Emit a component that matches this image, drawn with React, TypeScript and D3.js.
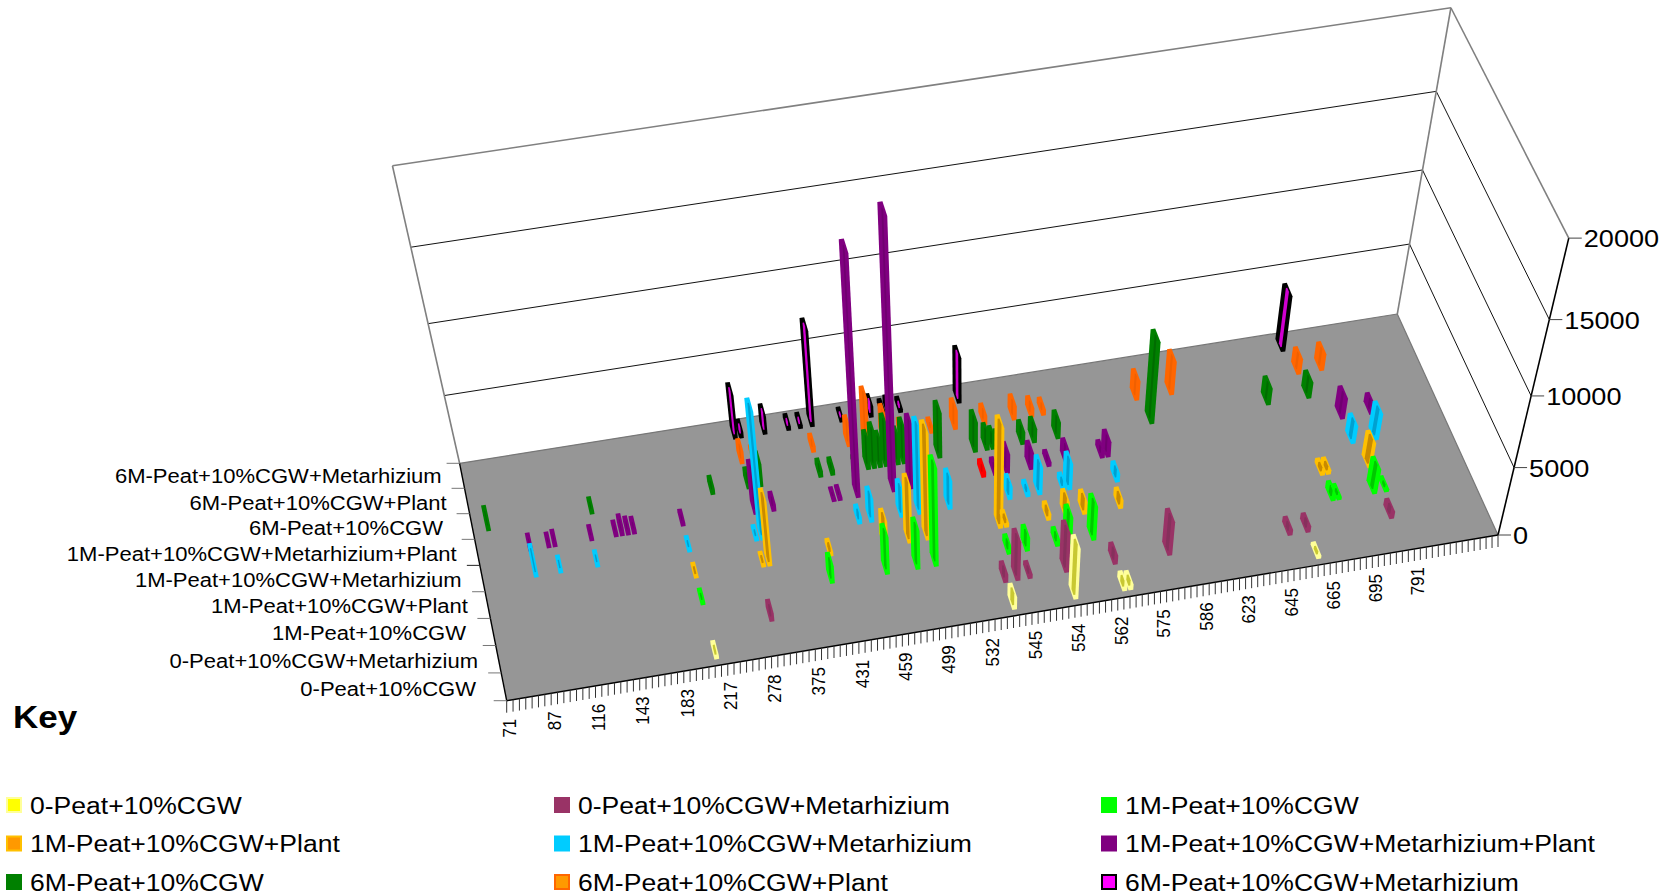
import * as React from 'react';
import { useRef, useEffect } from 'react';
import * as d3 from 'd3';

type Point = [number, number];
type Peak = [number, number]; // [category index, abundance]

const seriesNames = [
  '0-Peat+10%CGW',
  '0-Peat+10%CGW+Metarhizium',
  '1M-Peat+10%CGW',
  '1M-Peat+10%CGW+Plant',
  '1M-Peat+10%CGW+Metarhizium',
  '1M-Peat+10%CGW+Metarhizium+Plant',
  '6M-Peat+10%CGW',
  '6M-Peat+10%CGW+Plant',
  '6M-Peat+10%CGW+Metarhizium',
];

const peat0: Peak[] = [[33, 300], [81, 900], [91, 3800], [99, 450], [100, 400], [131, 200]];
const peat0Meta: Peak[] = [[43, 600], [81, 600], [83, 2900], [85, 300], [91, 2900], [99, 650], [108, 2500], [128, 400], [131, 450], [145, 500]];
const peat1: Peak[] = [[33, 200], [54, 1300], [63, 2800], [68, 2900], [71, 7200], [83, 500], [86, 1000], [91, 450], [93, 2000], [97, 2500], [137, 500], [138, 200], [144, 1800], [146, 200]];
const peat1Plant: Peak[] = [[33, 150], [44, 150], [45, 4800], [55, 300], [64, 1900], [68, 4200], [71, 7800], [83, 7300], [84, 300], [91, 450], [94, 1150], [97, 900], [103, 600], [137, 300], [138, 300], [145, 1800]];
const peat1Meta: Peak[] = [[8, 1500], [12, 300], [18, 250], [33, 200], [44, 200], [45, 9300], [61, 500], [63, 1700], [68, 1900], [71, 6200], [76, 2100], [86, 950], [89, 300], [91, 2000], [95, 400], [96, 1900], [104, 600], [144, 1300], [148, 1900]];
const peat1MetaPlant: Peak[] = [[8, 300], [11, 150], [12, 300], [18, 200], [22, 250], [23, 650], [24, 400], [25, 300], [33, 250], [45, 3100], [48, 500], [58, 100], [59, 200], [62, 16800], [68, 18700], [71, 4600], [85, 400], [87, 1400], [91, 1200], [94, 300], [97, 950], [103, 400], [104, 1100], [144, 1500], [149, 650]];
const peat6: Peak[] = [[2, 900], [19, 300], [39, 450], [45, 650], [47, 1700], [57, 450], [59, 400], [63, 300], [65, 2000], [66, 2500], [67, 1800], [68, 3000], [69, 2200], [70, 1900], [71, 2500], [77, 3300], [83, 2200], [85, 1100], [86, 800], [87, 500], [91, 900], [93, 1000], [97, 1200], [113, 5900], [133, 1200], [140, 1150]];
const peat6Plant: Peak[] = [[45, 900], [47, 300], [57, 450], [63, 1400], [66, 3300], [69, 1800], [72, 600], [77, 250], [81, 1400], [86, 650], [91, 1000], [94, 650], [96, 400], [112, 1400], [118, 2400], [140, 1100], [144, 1200]];
const peat6Meta: Peak[] = [[45, 3200], [46, 450], [50, 1300], [54, 300], [56, 250], [58, 6900], [63, 150], [68, 800], [70, 300], [71, 500], [73, 250], [83, 3300], [139, 4000]];
const redPeaks: Peak[] = [[83, 400]];

const seriesPeaks = [peat0, peat0Meta, peat1, peat1Plant, peat1Meta, peat1MetaPlant, peat6, peat6Plant, peat6Meta];

const outerColors = ['#ffff99', '#993366', '#00ff00', '#ffc000', '#00ccff', '#800080', '#008000', '#ff6600', '#000000'];
const innerColors = ['#c8c832', '#86305c', '#00c800', '#c88a00', '#00a0d0', '#700070', '#006c00', '#f06000', '#d000d0'];
const innerScales = [0.4, 0.3, 0.3, 0.4, 0.3, 0.2, 0.2, 0.2, 0.3];
const swatchFills = ['#ffff00', '#993366', '#00ff00', '#ff9900', '#00ccff', '#800080', '#008000', '#ff9900', '#ff00ff'];

const xTickLabels = ['71', '87', '116', '143', '183', '217', '278', '375', '431', '459', '499', '532', '545', '554', '562', '575', '586', '623', '645', '665', '695', '791'];
const zTicks = [0, 5000, 10000, 15000, 20000];

const tickCount = 161;
const labelEvery = 7;
const textStretch = 1.13;

// floor corners and the point the verticals run to
const frontLeft: Point = [506.7, 700.7];
const frontRight: Point = [1498, 535];
const backRight: Point = [1397.3, 314];
const backLeft: Point = [459.6, 463.3];
const vanish: Point = [973, 2738];
const zPersp = -0.1227;

const sx = frontLeft[0] - frontRight[0] + backRight[0] - backLeft[0];
const sy = frontLeft[1] - frontRight[1] + backRight[1] - backLeft[1];
const d1x = frontRight[0] - backRight[0];
const d1y = frontRight[1] - backRight[1];
const d2x = backLeft[0] - backRight[0];
const d2y = backLeft[1] - backRight[1];
const den = d1x * d2y - d1y * d2x;
const gU = (sx * d2y - sy * d2x) / den;
const gV = (d1x * sy - d1y * sx) / den;

// u along the m/z axis, v into the depth, z up the wall
function project(u: number, v: number, z: number): Point {
  const w = 1 + gU * u + gV * v + zPersp * z;
  const coord = (i: 0 | 1) =>
    ((frontRight[i] * (1 + gU) - frontLeft[i]) * u +
      (backLeft[i] * (1 + gV) - frontLeft[i]) * v +
      frontLeft[i] +
      zPersp * z * vanish[i]) / w;
  return [coord(0), coord(1)];
}

export default function App() {
  const svgRef = useRef<SVGSVGElement>(null);

  useEffect(() => {
    const svg = d3.select(svgRef.current);
    svg.selectAll('*').remove();

    const xScale = d3.scaleBand<number>().domain(d3.range(tickCount)).range([0, 1]);
    const depthScale = d3.scaleBand<number>().domain(d3.range(seriesNames.length)).range([0, 1]);
    const zScale = d3.scaleLinear().domain([0, 20000]).range([0, 1]);

    const segment = (a: Point, b: Point, stroke: string, width: number) =>
      svg.append('line')
        .attr('x1', a[0]).attr('y1', a[1])
        .attr('x2', b[0]).attr('y2', b[1])
        .attr('stroke', stroke)
        .attr('stroke-width', width);

    const label = (txt: string, x: number, y: number, size: number, anchor = 'start', rotate = false, weight = 'normal') =>
      svg.append('text')
        .attr('transform', `translate(${x},${y}) scale(${textStretch},1)${rotate ? ' rotate(-90)' : ''}`)
        .attr('text-anchor', anchor)
        .attr('font-family', '"Liberation Sans", Arial, sans-serif')
        .attr('font-size', size)
        .attr('font-weight', weight)
        .attr('fill', '#000')
        .attr('dy', rotate ? '0.35em' : null)
        .text(txt);

    /* Walls */
    zTicks.slice(1).forEach((t) => {
      const top = t === 20000;
      const z = zScale(t);
      segment(project(0, 1, z), project(1, 1, z), top ? '#808080' : '#111', top ? 1.6 : 1);
      segment(project(1, 1, z), project(1, 0, z), top ? '#808080' : '#111', top ? 1.6 : 1);
    });
    segment(project(0, 1, 0), project(0, 1, 1), '#808080', 1.6);
    segment(project(1, 1, 0), project(1, 1, 1), '#808080', 1.6);

    /* Floor */
    svg.append('path')
      .attr('d', `M${[frontLeft, frontRight, backRight, backLeft].join('L')}Z`)
      .attr('fill', '#969696');
    segment(backLeft, backRight, '#777', 1.2);
    segment(backRight, frontRight, '#777', 1.2);
    segment(frontLeft, frontRight, '#000', 1.4);
    segment(frontLeft, backLeft, '#000', 1.4);
    segment(frontRight, project(1, 0, 1), '#000', 1.6);

    /* Axis ticks */
    d3.range(tickCount + 1).forEach((i) => {
      const [x, y] = project(i / tickCount, 0, 0);
      segment([x, y], [x, y + 12], '#333', 1);
      const name = xTickLabels[i / labelEvery];
      if (name) label(name, x + 3, y + 18, 17, 'end', true);
    });

    d3.range(seriesNames.length + 1).forEach((k) => {
      const [x, y] = project(0, k / seriesNames.length, 0);
      segment([x, y], [x - 13, y], k === 5 ? '#222' : '#777', 1);
    });

    zTicks.forEach((t) => {
      const [x, y] = project(1, 0, zScale(t));
      segment([x, y], [x + 13, y], '#444', 1);
      label(String(t), x + 15, y + 9, 24);
    });

    /* Series names, right ends */
    const nameEnds = [476, 478, 466, 468, 461.7, 456.7, 443, 446.7, 441.7];
    const nameBases = [696, 668, 640, 613, 587, 561, 535, 510, 483];
    seriesNames.forEach((name, s) => label(name, nameEnds[s], nameBases[s], 19.5, 'end'));

    /* Peaks: thin columns, far rows first */
    const column = (tick: number, s: number, value: number, shrink: number) => {
      const uc = (xScale(tick) as number) + xScale.bandwidth() / 2;
      const vc = (depthScale(s) as number) + depthScale.bandwidth() / 2;
      const hu = 0.38 * shrink * xScale.bandwidth();
      const hv = 0.28 * shrink * depthScale.bandwidth();
      const pts: Point[] = [];
      [-hu, hu].forEach((du) => [-hv, hv].forEach((dv) => {
        pts.push(project(uc + du, vc + dv, 0));
        pts.push(project(uc + du, vc + dv, zScale(value)));
      }));
      return d3.polygonHull(pts) as Point[];
    };
    const hullPath = d3.line();

    const drawPeak = (tick: number, s: number, value: number, outer: string, inner: string, innerScale: number) => {
      svg.append('path')
        .attr('d', `${hullPath(column(tick, s, value, 1))}Z`)
        .attr('fill', outer);
      svg.append('path')
        .attr('d', `${hullPath(column(tick, s, value, innerScale))}Z`)
        .attr('fill', inner);
    };

    d3.range(seriesNames.length).reverse().forEach((s) => {
      seriesPeaks[s].forEach(([tick, value]) =>
        drawPeak(tick, s, value, outerColors[s], innerColors[s], innerScales[s]));
      if (s === 5) {
        redPeaks.forEach(([tick, value]) => drawPeak(tick, s, value, '#ff0000', '#e00000', 0.2));
      }
    });

    /* Key */
    label('Key', 13, 728, 31, 'start', false, 'bold');
    const legendCols = [6, 554, 1101];
    const legendRows = [805, 843.5, 882];
    seriesNames.forEach((name, s) => {
      const x = legendCols[s % 3];
      const y = legendRows[Math.floor(s / 3)];
      svg.append('rect')
        .attr('x', x + 1).attr('y', y - 7)
        .attr('width', 14).attr('height', 14)
        .attr('fill', swatchFills[s])
        .attr('stroke', outerColors[s])
        .attr('stroke-width', 2);
      label(name, x + 24, y + 8.5, 23.5);
    });
  }, []);

  return (
    <svg
      ref={svgRef}
      width={1670}
      height={896}
      style={{ position: 'absolute', left: 0, top: 0, background: '#fff' }}
    />
  );
}
